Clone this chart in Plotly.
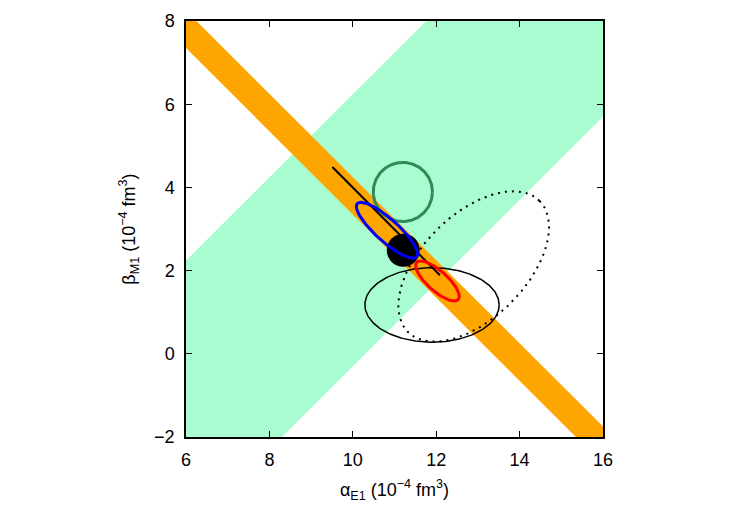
import numpy as np
import plotly.graph_objects as go

# ---- data ----
# Baldin sum rule band: alpha + beta = sum_center +/- sum_half
sum_center = 13.8
sum_half = 0.45
# Difference band: alpha - beta = diff_center +/- diff_half
diff_center = 7.03
diff_half = 3.27

# ellipses: name, center x, center y, semi-major, semi-minor, angle (deg)
ell_names = ["dotted", "thin", "green_circle", "blue", "red"]
ell_cx = [12.9, 11.9, 11.2, 10.82, 12.03]
ell_cy = [2.1, 1.175, 3.89, 2.97, 1.75]
ell_a = [2.23, 1.61, 0.71, 0.96, 0.67]
ell_b = [1.25, 0.895, 0.71, 0.27, 0.24]
ell_ang = [45.0, 0.0, 0.0, -42.0, -42.0]

# black line segment
line_x = [9.51, 12.09]
line_y = [4.49, 1.89]

# black point
pt_x = [11.21]
pt_y = [2.49]

x_ticks = [6, 8, 10, 12, 14, 16]
y_ticks = [-2, 0, 2, 4, 6, 8]
y_ticklabels = ["\u22122", "0", "2", "4", "6", "8"]


def ellipse(i, n=240):
    t = np.linspace(0, 2 * np.pi, n)
    th = np.deg2rad(ell_ang[i])
    ex = ell_a[i] * np.cos(t)
    ey = ell_b[i] * np.sin(t)
    x = ell_cx[i] + ex * np.cos(th) - ey * np.sin(th)
    y = ell_cy[i] + ex * np.sin(th) + ey * np.cos(th)
    return x, y


fig = go.Figure()

# green band (alpha - beta)
xa, xb = 0.0, 22.0
lo, hi = diff_center - diff_half, diff_center + diff_half
fig.add_trace(go.Scatter(
    x=[xa, xb, xb, xa, xa],
    y=[xa - lo, xb - lo, xb - hi, xa - hi, xa - lo],
    fill="toself", fillcolor="#a8fcd0", line=dict(width=0), mode="lines",
    hoverinfo="skip", showlegend=False))

# orange band (alpha + beta)
slo, shi = sum_center - sum_half, sum_center + sum_half
fig.add_trace(go.Scatter(
    x=[xa, xa, xb, xb, xa],
    y=[slo - xa, shi - xa, shi - xb, slo - xb, slo - xa],
    fill="toself", fillcolor="#ffa500", line=dict(width=0), mode="lines",
    hoverinfo="skip", showlegend=False))

styles = {
    "dotted": dict(color="black", width=2, dash="2px,5px"),
    "thin": dict(color="black", width=1.5),
    "green_circle": dict(color="#2e8b57", width=3),
    "blue": dict(color="#0000ff", width=3),
    "red": dict(color="#ff0000", width=3),
}


def add_ell(name):
    i = ell_names.index(name)
    x, y = ellipse(i)
    fig.add_trace(go.Scatter(x=x, y=y, mode="lines", line=styles[name],
                             hoverinfo="skip", showlegend=False))


add_ell("dotted")
add_ell("thin")
fig.add_trace(go.Scatter(x=line_x, y=line_y, mode="lines",
                         line=dict(color="black", width=2), showlegend=False))
add_ell("green_circle")
fig.add_trace(go.Scatter(x=pt_x, y=pt_y, mode="markers",
                         marker=dict(color="black", size=33, line=dict(width=0)),
                         showlegend=False))
add_ell("blue")
add_ell("red")

FONT = "Liberation Sans, Arial, sans-serif"
axis_common = dict(
    showline=True, linecolor="black", linewidth=1.5, mirror="ticks",
    ticks="inside", ticklen=6, tickcolor="black", tickwidth=1,
    showgrid=False, zeroline=False, ticklabelstandoff=6,
    tickfont=dict(family=FONT, size=18, color="black"),
)

fig.update_layout(
    width=750, height=525,
    margin=dict(l=186, r=147, t=21, b=88),
    paper_bgcolor="white", plot_bgcolor="white",
    xaxis=dict(range=[6, 16], tickvals=x_ticks, **axis_common,
               title=dict(text="\u03b1<sub>E1</sub> (10<sup>\u22124</sup> fm<sup>3</sup>)",
                          font=dict(family=FONT, size=18, color="black"),
                          standoff=14)),
    yaxis=dict(range=[-2, 8], tickvals=y_ticks, ticktext=y_ticklabels, **axis_common,
               title=dict(text="\u03b2<sub>M1</sub> (10<sup>\u22124</sup> fm<sup>3</sup>)",
                          font=dict(family=FONT, size=18, color="black"),
                          standoff=14)),
    showlegend=False,
)

fig.write_html("out.html")
